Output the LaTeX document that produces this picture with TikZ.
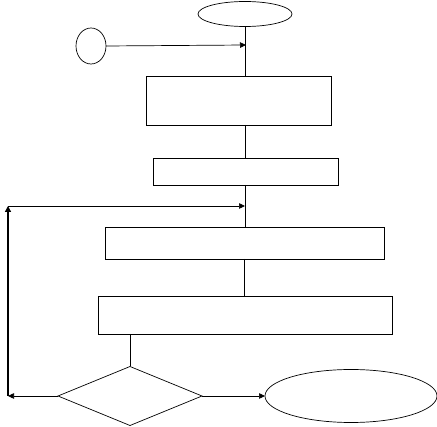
\documentclass[tikz,border=0pt]{standalone}
\usetikzlibrary{arrows.meta,shapes.geometric}
\begin{document}
\begin{tikzpicture}[x=1pt,y=-1pt,
  every node/.style={inner sep=0pt,outer sep=0pt},
  box/.style={draw,line width=0.9pt,rectangle},
  oval/.style={draw,line width=0.7pt,ellipse},
  dia/.style={draw,line width=0.7pt,diamond,aspect=2.44},
  conn/.style={line width=0.7pt},
  arr/.style={line width=0.7pt,-{Triangle[length=6pt,width=5.5pt]}},
  thickarr/.style={line width=1.6pt,-{Triangle[length=6pt,width=6pt]}}]
\useasboundingbox (0,0) rectangle (437,427);
\node[oval,minimum width=94pt,minimum height=25pt] (start) at (245,14) {};
\node[oval,minimum width=30pt,minimum height=36pt] (circ) at (91,46) {};
\node[box,minimum width=185pt,minimum height=49pt] (b1) at (238.5,100.5) {};
\node[box,minimum width=185pt,minimum height=27pt] (b2) at (245.5,171.5) {};
\node[box,minimum width=279pt,minimum height=32pt] (b3) at (244.5,243) {};
\node[box,minimum width=294pt,minimum height=38pt] (b4) at (245,315) {};
\node[dia,minimum width=144pt,minimum height=59pt] (d) at (130,396) {};
\node[oval,minimum width=172pt,minimum height=53pt] (end) at (351,396) {};
\coordinate (j1) at (246,45);
\coordinate (j2) at (245,206);
\coordinate (lb) at (8,396);
\coordinate (lt) at (8,206);
\draw[conn] (start.south) -- (start.south |- b1.north);
\draw[arr] (circ.east) -- (j1);
\draw[conn] (start.south |- b1.south) -- (start.south |- b2.north);
\draw[conn] (b2.south) -- (b2.south |- b3.north);
\draw[conn] (b3.south) -- (b3.south |- b4.north);
\draw[conn] (d.north |- b4.south) -- (d.north);
\draw[arr] (d.west) -- (lb);
\draw[thickarr] (lb) -- (lt);
\draw[arr] (lt) -- (j2);
\draw[arr] (d.east) -- (end.west);
\end{tikzpicture}
\end{document}
